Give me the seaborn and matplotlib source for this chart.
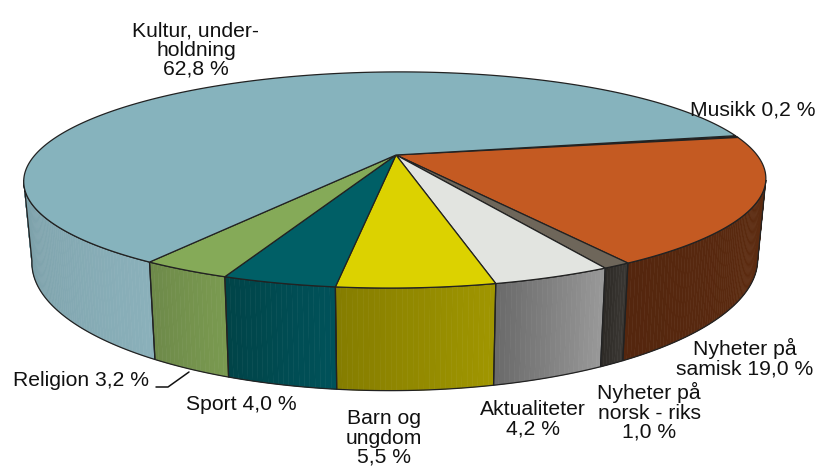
import numpy as np
import matplotlib
matplotlib.use("Agg")
import matplotlib.pyplot as plt
from matplotlib.collections import PolyCollection
import seaborn as sns

categories = ["Musikk", "Nyheter på samisk", "Nyheter på norsk - riks", "Aktualiteter",
              "Barn og ungdom", "Sport", "Religion", "Kultur, underholdning"]
values = [0.2, 19.0, 1.0, 4.2, 5.5, 4.0, 3.2, 62.8]
top_colors = ["#6e665a", "#c45a22", "#6e665a", "#e2e4e0", "#dcd200", "#005f66", "#85aa58", "#86b3bd"]
wall_left = ["#4a4238", "#54260e", "#2e2b27", "#6b6b6b", "#857d00", "#004448", "#6e8a4a", "#7b9fa8"]
wall_right = ["#4a4238", "#5e2c10", "#3a3733", "#989898", "#a09600", "#00525a", "#7a9a50", "#8ab0ba"]

labels = ["Musikk 0,2 %", "Nyheter på\nsamisk 19,0 %", "Nyheter på\nnorsk - riks\n1,0 %",
          "Aktualiteter\n4,2 %", "Barn og\nungdom\n5,5 %", "Sport 4,0 %", "Religion 3,2 %",
          "Kultur, under-\nholdning\n62,8 %"]
label_x = [753, 745, 649, 533, 384, 241, 81, 196]
label_y = [110, 358, 412, 419, 438, 405, 381, 50]

# Projection of the disc onto the picture
CX, CY = 396, 155
A, B, K, SHEAR = 361, 102.3, 0.231, -5
DROP, SX, SY = 76, 0.978, 1.2
START = -11.0
EDGE = "#222222"


def top_xy(theta):
    u, v = np.cos(np.radians(theta)), np.sin(np.radians(theta))
    d = 1 - K * v
    return (A * u + SHEAR * v) / d, B * v / d


def rim_top(theta):
    x, y = top_xy(theta)
    return CX + x, CY + y


def rim_bottom(theta):
    x, y = top_xy(theta)
    return CX + SX * x, CY + DROP + SY * y


sns.set_theme(style="white")
plt.rcParams["font.family"] = ["Liberation Sans", "DejaVu Sans"]

fig = plt.figure(figsize=(8.19, 4.70), dpi=100)
ax = fig.add_axes([0, 0, 1, 1])
ax.set_xlim(0, 819)
ax.set_ylim(470, 0)
ax.axis("off")

ends = START + np.cumsum(values) * 3.6
starts = np.concatenate([[START], ends[:-1]])
tangent = np.degrees(np.arcsin(K))
vis_lo, vis_hi = tangent, 180 - tangent

# Outer walls
for s, e, cl, cr in zip(starts, ends, wall_left, wall_right):
    lo, hi = max(s, vis_lo), min(e, vis_hi)
    if hi <= lo:
        continue
    n = max(int((hi - lo) * 1.5), 8)
    th = np.linspace(lo, hi, n + 1)
    cols = sns.blend_palette([cr, cl], n) if lo < 90 and hi < 100 and cl != "#7b9fa8" else sns.blend_palette([cl, cr], n)
    cols = sns.blend_palette([cr, cl], n)
    polys = []
    for a, b in zip(th[:-1], th[1:]):
        tx, ty = rim_top(np.array([a, b]))
        bx, by = rim_bottom(np.array([b, a]))
        polys.append(np.column_stack([np.r_[tx, bx], np.r_[ty, by]]))
    ax.add_collection(PolyCollection(polys, facecolors=cols, edgecolors="face", linewidths=0.4, zorder=2))
    fine = np.linspace(lo, hi, n * 3)
    tx, ty = rim_top(fine)
    bx, by = rim_bottom(fine[::-1])
    ax.fill(np.r_[tx, bx], np.r_[ty, by], facecolor="none", edgecolor=EDGE, lw=0.9, zorder=3)

# Top face
for s, e, c in zip(starts, ends, top_colors):
    th = np.linspace(s, e, max(int(e - s) * 2, 3))
    x, y = rim_top(th)
    ax.fill(np.r_[CX, x], np.r_[CY, y], facecolor=c, edgecolor=EDGE, lw=0.9, joinstyle="round", zorder=4)

# Labels
for text, x, y in zip(labels, label_x, label_y):
    ax.text(x, y, text, ha="center", va="center", ma="center", fontsize=15.2,
            linespacing=1.02, color="#111111", zorder=6)

# Leader line for Religion
ax.plot([156, 168, 189], [387, 387, 372], color="#111111", lw=1.1, zorder=5)

fig.savefig("out.png", dpi=100)
